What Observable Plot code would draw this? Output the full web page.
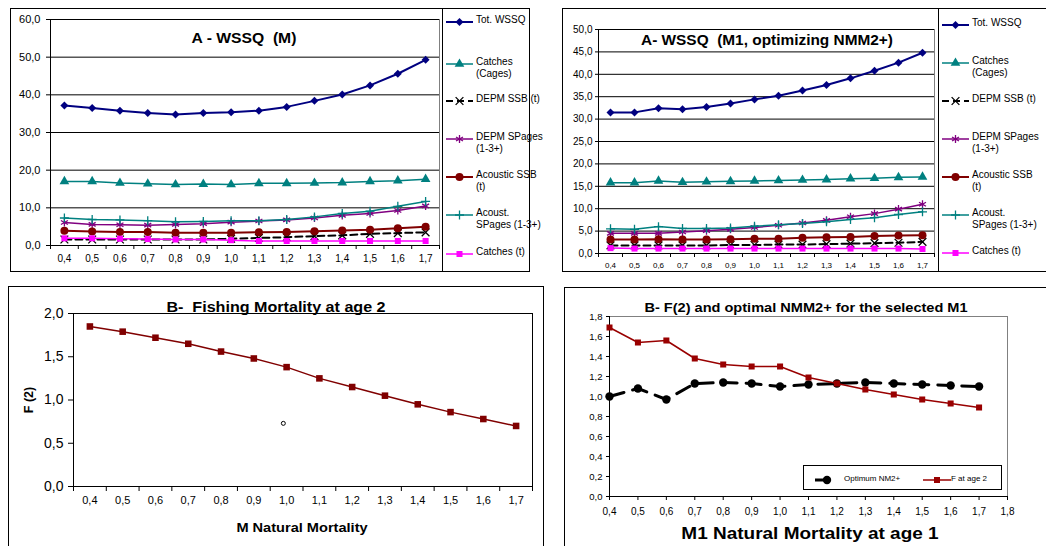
<!DOCTYPE html>
<html><head><meta charset="utf-8">
<script src="https://cdn.jsdelivr.net/npm/d3@7"></script>
<script src="https://cdn.jsdelivr.net/npm/@observablehq/plot@0.6"></script>
<style>
body{margin:0;background:#fff;font-family:"Liberation Sans",Arial,sans-serif;}
#root{position:relative;width:1046px;height:546px;overflow:hidden;background:#fff;}
.panel{position:absolute;border:1px solid #000;box-sizing:border-box;}
.abs{position:absolute;}
.abs svg{overflow:visible;}
.title{position:absolute;font-weight:bold;white-space:pre;transform:translate(-50%,-50%);color:#000;}
.legtxt{position:absolute;font-size:10px;line-height:11.5px;color:#000;white-space:pre;}
.vline{position:absolute;border-left:1px solid #000;width:0;}
</style></head><body><div id="root"></div>
<script>
// ---------- data ----------
const mCats = [0.4,0.5,0.6,0.7,0.8,0.9,1.0,1.1,1.2,1.3,1.4,1.5,1.6,1.7];
const seriesNames = ["Tot. WSSQ","Catches\n(Cages)","DEPM SSB (t)","DEPM SPages\n(1-3+)","Acoustic SSB\n(t)","Acoust.\nSPages (1-3+)","Catches (t)"];

// Panel A - WSSQ (M)
const a1TotWSSQ     = [37.2,36.5,35.8,35.2,34.8,35.2,35.4,35.8,36.8,38.4,40.1,42.5,45.6,49.3];
const a1CatchesCages= [17.0,17.0,16.6,16.4,16.2,16.3,16.2,16.5,16.5,16.6,16.7,17.0,17.2,17.6];
const a1DepmSSB     = [1.6,1.6,1.6,1.6,1.6,1.6,1.8,2.0,2.2,2.5,2.7,3.1,3.3,3.5];
const a1DepmSPages  = [6.1,5.6,5.5,5.4,5.6,5.8,6.2,6.5,6.8,7.3,8.0,8.5,9.3,10.5];
const a1AcousticSSB = [3.9,3.7,3.6,3.6,3.4,3.4,3.4,3.5,3.6,3.8,4.0,4.2,4.6,5.0];
const a1AcoustSPages= [7.3,6.9,6.8,6.6,6.3,6.4,6.6,6.6,6.9,7.6,8.5,9.1,10.4,11.7];
const a1CatchesT    = [1.9,1.9,1.8,1.7,1.6,1.6,1.4,1.2,1.2,1.2,1.2,1.2,1.2,1.2];

// Panel A- WSSQ (M1, optimizing NMM2+)
const a2TotWSSQ     = [31.5,31.5,32.4,32.2,32.7,33.5,34.4,35.2,36.4,37.6,39.1,40.8,42.6,44.8];
const a2CatchesCages= [15.8,15.8,16.2,15.9,16.0,16.1,16.2,16.3,16.4,16.5,16.7,16.8,17.0,17.1];
const a2DepmSSB     = [1.8,1.8,1.8,1.8,1.8,1.9,1.9,2.0,2.0,2.1,2.2,2.3,2.4,2.6];
const a2DepmSPages  = [4.5,4.5,4.5,4.8,5.1,5.4,5.8,6.3,6.8,7.4,8.2,8.9,9.9,11.0];
const a2AcousticSSB = [3.1,3.1,3.2,3.1,3.1,3.2,3.3,3.3,3.5,3.6,3.7,3.9,4.0,4.1];
const a2AcoustSPages= [5.5,5.4,6.0,5.6,5.6,5.7,6.1,6.4,6.7,7.1,7.6,8.0,8.7,9.3];
const a2CatchesT    = [1.2,1.1,1.1,1.1,1.1,1.1,1.1,1.1,1.1,1.1,1.1,1.1,1.1,1.0];

// Panel B- Fishing Mortality at age 2
const bF2 = [1.85,1.79,1.72,1.65,1.56,1.48,1.38,1.25,1.15,1.05,0.95,0.86,0.78,0.70];
const strayX = [0.99], strayY = [0.73];

// Panel B- F(2) and optimal NMM2+
const b2OptNM2 = [1.00,1.08,0.97,1.13,1.14,1.13,1.10,1.12,1.13,1.14,1.13,1.12,1.11,1.10];
const b2F2     = [1.69,1.54,1.56,1.38,1.32,1.30,1.30,1.19,1.13,1.07,1.02,0.97,0.93,0.89];
const b2Names  = ["Optimum NM2+","F at age 2"];

// tick labels
const yTicksA1 = [0,10,20,30,40,50,60];
const yTicksA2 = [0,5,10,15,20,25,30,35,40,45,50];
const yTicksB1 = [0,0.5,1.0,1.5,2.0];
const yTicksB2 = [0,0.2,0.4,0.6,0.8,1.0,1.2,1.4,1.6,1.8];
const xTicksB2 = [0.4,0.5,0.6,0.7,0.8,0.9,1.0,1.1,1.2,1.3,1.4,1.5,1.6,1.7,1.8];

// ---------- styles ----------
const seriesStyle = [
  {color:"#000080", symbol:"diamond2", r:3.6, filled:true,  width:2},
  {color:"#008080", symbol:"triangle", r:3.6, filled:true,  width:1.5},
  {color:"#000000", symbol:"times",    r:3.6, filled:false, width:2, dash:"7,4"},
  {color:"#800080", symbol:"asterisk", r:3.8, filled:false, width:1.5},
  {color:"#800000", symbol:"circle",   r:4,   filled:true,  width:2},
  {color:"#008080", symbol:"plus",     r:3,   filled:false, width:1.5},
  {color:"#FF00FF", symbol:"square",   r:3.4, filled:true,  width:1.5}
];
const FONT = '"Liberation Sans", Arial, sans-serif';
const fmt1 = d => d3.format(".1f")(d).replace(".", ",");
const xBounds = [mCats[0]-0.05, ...mCats.map(c => c+0.05)];
const root = document.getElementById("root");

function place(node, left, top){
  const d = document.createElement("div");
  d.className = "abs"; d.style.left = left+"px"; d.style.top = top+"px";
  d.appendChild(node); root.appendChild(d); return d;
}
function box(left, top, w, h, cls="panel"){
  const d = document.createElement("div"); d.className = cls;
  Object.assign(d.style,{left:left+"px",top:top+"px",width:w+"px",height:h+"px"});
  root.appendChild(d); return d;
}
function title(text, cx, cy, size, sx=1, extra=""){
  const d = document.createElement("div"); d.className="title"; d.textContent=text;
  Object.assign(d.style,{left:cx+"px",top:cy+"px",fontSize:size+"px",
    transform:`translate(-50%,-50%) ${extra} scaleX(${sx})`});
  root.appendChild(d); return d;
}
const symMap = {diamond2:d3.symbolDiamond2, triangle:d3.symbolTriangle, times:d3.symbolTimes,
  asterisk:d3.symbolAsterisk, circle:d3.symbolCircle, plus:d3.symbolPlus, square:d3.symbolSquare};
function glyph(left, top, w, s, cx){
  const ns="http://www.w3.org/2000/svg";
  const svg=document.createElementNS(ns,"svg");
  svg.setAttribute("width",w); svg.setAttribute("height",12);
  const ln=document.createElementNS(ns,"line");
  ln.setAttribute("x1",0);ln.setAttribute("x2",w);ln.setAttribute("y1",6);ln.setAttribute("y2",6);
  ln.setAttribute("stroke",s.color);ln.setAttribute("stroke-width",s.width);
  if(s.dash) ln.setAttribute("stroke-dasharray",s.dash);
  svg.appendChild(ln);
  const p=document.createElementNS(ns,"path");
  p.setAttribute("d",d3.symbol(symMap[s.symbol],Math.PI*s.r*s.r)());
  p.setAttribute("transform",`translate(${cx ?? w/2},6)`);
  if(s.filled){p.setAttribute("fill",s.color);} else {p.setAttribute("fill","none");p.setAttribute("stroke",s.color);p.setAttribute("stroke-width",1.3);}
  svg.appendChild(p);
  place(svg,left,top-6);
}
function legText(text,left,top,size=10){
  const d=document.createElement("div");d.className="legtxt";d.textContent=text;
  Object.assign(d.style,{left:left+"px",top:(top-6)+"px",fontSize:size+"px"});
  root.appendChild(d);
}

function topPanel(cfg){
  const marks = [
    Plot.frame({stroke:"#808080"}),
    Plot.gridY(cfg.yTicks,{stroke:"#000",strokeOpacity:1}),
    Plot.ruleX([0.35],{stroke:"#000"}),
    Plot.ruleY([0],{stroke:"#000"}),
    Plot.axisY(cfg.yTicks,{tickFormat:fmt1,tickSize:cfg.yTS,tickPadding:cfg.yPad,fontSize:cfg.yFont,label:null}),
    Plot.axisX(xBounds,{tickFormat:()=>"",tickSize:4,label:null}),
    Plot.axisX(mCats,{tickFormat:fmt1,tickSize:0,tickPadding:cfg.xPad,fontSize:cfg.xFont,label:null})
  ];
  seriesStyle.forEach((s,k)=>{
    const data = cfg.vals[k].map((v,i)=>({x:mCats[i],y:v}));
    marks.push(Plot.line(data,{x:"x",y:"y",stroke:s.color,strokeWidth:s.width,strokeDasharray:s.dash}));
    marks.push(Plot.dot(data,{x:"x",y:"y",symbol:s.symbol,r:s.r,
      fill:s.filled?s.color:"none",stroke:s.filled?"none":s.color,strokeWidth:1.3}));
  });
  const chart = Plot.plot({
    width:cfg.W,height:cfg.H,marginLeft:cfg.mL,marginRight:cfg.mR,marginTop:cfg.mT,marginBottom:cfg.mB,
    x:{type:"linear",domain:[0.35,1.75],label:null}, y:{domain:[0,cfg.yMax],label:null},
    style:{fontFamily:FONT,color:"#000",background:"transparent",overflow:"visible"},
    marks
  });
  place(chart,cfg.left,cfg.top);
}

// ---------- Panel A (top-left) ----------
box(10,8,520,264);
topPanel({left:10,top:8,W:440,H:262,mL:40,mR:11,mT:11,mB:25,yMax:60,yTicks:yTicksA1,
  vals:[a1TotWSSQ,a1CatchesCages,a1DepmSSB,a1DepmSPages,a1AcousticSSB,a1AcoustSPages,a1CatchesT],
  yTS:4,yPad:6,yFont:11,xPad:9,xFont:10});
title("A - WSSQ  (M)",244,38,14,1.12);
box(442,8,0,264,"vline");
const legY1=[20,62,99,137,175,213,252];
seriesStyle.forEach((s,k)=>{glyph(446,legY1[k],27,s); legText(seriesNames[k],476,legY1[k]);});

// ---------- Panel A (top-right) ----------
box(562,8,490,264);
topPanel({left:562,top:8,W:380,H:262,mL:36,mR:8,mT:21,mB:17,yMax:50,yTicks:yTicksA2,
  vals:[a2TotWSSQ,a2CatchesCages,a2DepmSSB,a2DepmSPages,a2AcousticSSB,a2AcoustSPages,a2CatchesT],
  yTS:3,yPad:3,yFont:10,xPad:9,xFont:8});
title("A- WSSQ  (M1, optimizing NMM2+)",767,40,14,1.1);
box(938,8,0,264,"vline");
const legY2=[23,61,99,137,175,213,251];
seriesStyle.forEach((s,k)=>{glyph(942,legY2[k],27,s); legText(seriesNames[k],972,legY2[k]);});

// ---------- Panel B (bottom-left) ----------
box(8,286,536,270);
{
  const data = bF2.map((v,i)=>({x:mCats[i],y:v}));
  const chart = Plot.plot({
    width:536,height:260,marginLeft:65,marginRight:12,marginTop:27,marginBottom:60,
    x:{type:"linear",domain:[0.35,1.75],label:null}, y:{domain:[0,2],label:null},
    style:{fontFamily:FONT,color:"#000",background:"transparent",overflow:"visible"},
    marks:[
      Plot.frame({stroke:"#000"}),
      Plot.axisY(yTicksB1,{tickFormat:fmt1,tickSize:5,tickPadding:5,fontSize:14,label:null}),
      Plot.axisX(xBounds,{tickFormat:()=>"",tickSize:5,label:null}),
      Plot.axisX(mCats,{tickFormat:fmt1,tickSize:0,tickPadding:10,fontSize:11,label:null}),
      Plot.line(data,{x:"x",y:"y",stroke:"#800000",strokeWidth:1.5}),
      Plot.dot(data,{x:"x",y:"y",symbol:"square",r:3.7,fill:"#800000"}),
      Plot.dot(strayX.map((x,i)=>({x,y:strayY[i]})),{x:"x",y:"y",r:2,stroke:"#000",fill:"none",strokeWidth:1})
    ]
  });
  place(chart,8,286);
}
title("B-  Fishing Mortality at age 2",276,307,14,1.15);
title("F (2)",29,400,12.5,1,"rotate(-90deg)");
title("M Natural Mortality",302,527,13.5,1.08);

// ---------- Panel B (bottom-right) ----------
box(564,287,490,270);
const optStyle = {color:"#000",symbol:"circle",r:4.2,filled:true,width:3,dash:"15,9"};
const fStyle = {color:"#990000",symbol:"square",r:3.4,filled:true,width:1.5};
{
  const dOpt = b2OptNM2.map((v,i)=>({x:mCats[i],y:v}));
  const dF = b2F2.map((v,i)=>({x:mCats[i],y:v}));
  const chart = Plot.plot({
    width:482,height:259,marginLeft:45,marginRight:39,marginTop:29,marginBottom:50,
    x:{type:"linear",domain:[0.4,1.8],label:null}, y:{domain:[0,1.8],label:null},
    style:{fontFamily:FONT,color:"#000",background:"transparent",overflow:"visible"},
    marks:[
      Plot.frame({stroke:"#808080"}),
      Plot.ruleX([0.4],{stroke:"#000"}),
      Plot.ruleY([0],{stroke:"#000"}),
      Plot.axisY(yTicksB2,{tickFormat:fmt1,tickSize:3,tickPadding:4,fontSize:9.5,label:null}),
      Plot.axisX(xTicksB2,{tickFormat:fmt1,tickSize:4,tickPadding:7,fontSize:10,label:null}),
      Plot.line(dOpt,{x:"x",y:"y",stroke:optStyle.color,strokeWidth:optStyle.width,strokeDasharray:optStyle.dash}),
      Plot.dot(dOpt,{x:"x",y:"y",symbol:"circle",r:optStyle.r,fill:"#000"}),
      Plot.line(dF,{x:"x",y:"y",stroke:fStyle.color,strokeWidth:fStyle.width}),
      Plot.dot(dF,{x:"x",y:"y",symbol:"square",r:fStyle.r,fill:fStyle.color})
    ]
  });
  place(chart,564,287);
}
title("B- F(2) and optimal NMM2+ for the selected M1",806,307,13,1.12);
title("M1 Natural Mortality at age 1",810,533,16.5,1.15);
{
  const lb=box(803,465,199,25,"panel"); lb.style.background="#fff";
  glyph(815,478,19,{...optStyle,dash:"14,6"},12);
  legText(b2Names[0],844,479,8);
  glyph(923,478,28,fStyle,14);
  legText(b2Names[1],951,479,8);
}
</script></body></html>
